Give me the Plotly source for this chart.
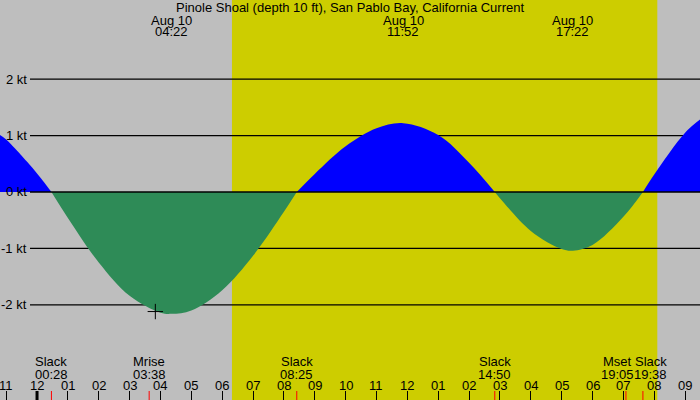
import plotly.graph_objects as go

# current prediction, Pinole Shoal, Aug 10 (knots, + = flood, - = ebb)
times = [
    "2023-08-09 22:48", "2023-08-09 23:00", "2023-08-10 00:00", "2023-08-10 00:28",
    "2023-08-10 01:00", "2023-08-10 02:00", "2023-08-10 03:00", "2023-08-10 04:00",
    "2023-08-10 04:22", "2023-08-10 05:00", "2023-08-10 06:00", "2023-08-10 07:00",
    "2023-08-10 08:00", "2023-08-10 08:25", "2023-08-10 09:00", "2023-08-10 10:00",
    "2023-08-10 11:00", "2023-08-10 11:52", "2023-08-10 13:00", "2023-08-10 14:00",
    "2023-08-10 14:50", "2023-08-10 15:00", "2023-08-10 16:00", "2023-08-10 17:00",
    "2023-08-10 17:22", "2023-08-10 18:00", "2023-08-10 19:00", "2023-08-10 19:38",
    "2023-08-10 20:00", "2023-08-10 21:00", "2023-08-10 21:30",
]
knots = [
    1.01, 0.93, 0.33, 0.0,
    -0.46, -1.25, -1.84, -2.14,
    -2.16, -2.10, -1.74, -1.13,
    -0.35, 0.0, 0.32, 0.81,
    1.13, 1.22, 1.01, 0.52,
    0.0, -0.11, -0.69, -1.01,
    -1.04, -0.94, -0.44, 0.0,
    0.31, 1.05, 1.29,
]

# hour ticks along the bottom
tick_times = ["2023-08-09 23:00"] + [f"2023-08-10 {h:02d}:00" for h in range(22)]
tick_labels = ["11", "12", "01", "02", "03", "04", "05", "06", "07", "08", "09", "10",
               "11", "12", "01", "02", "03", "04", "05", "06", "07", "08", "09"]

# max/min current labels at the top
peak_times = ["2023-08-10 04:22", "2023-08-10 11:52", "2023-08-10 17:22"]
peak_labels = ["04:22", "11:52", "17:22"]
peak_dates = ["Aug 10", "Aug 10", "Aug 10"]

# events along the bottom
event_times = ["2023-08-10 00:28", "2023-08-10 03:38", "2023-08-10 08:25",
               "2023-08-10 14:50", "2023-08-10 19:05", "2023-08-10 19:38"]
event_names = ["Slack", "Mrise", "Slack", "Slack", "Mset", "Slack"]
event_labels = ["00:28", "03:38", "08:25", "14:50", "19:05", "19:38"]
event_shift = [0, 0, 0, 0, -8, 8]

sunrise = "2023-08-10 06:19"
sunset = "2023-08-10 20:06"
mark_time = "2023-08-10 03:50"
mark_knots = -2.12

kt_levels = [2, 1, 0, -1, -2]

FONT = "Liberation Sans"
FS = 13
GREY = "#bebebe"
DAY = "#cdcd00"
FLOOD = "#0000ff"
EBB = "#2e8b57"

fig = go.Figure()

# split curve at slack (zero) points so each lobe gets its own colour
seg_t, seg_v = [times[0]], [knots[0]]
for t, v in zip(times[1:], knots[1:]):
    seg_t.append(t)
    seg_v.append(v)
    if v == 0 or t == times[-1]:
        col = FLOOD if sum(seg_v) > 0 else EBB
        fig.add_trace(go.Scatter(
            x=seg_t, y=seg_v, mode="lines", line=dict(color=col, width=0, shape="spline"),
            fill="tozeroy", fillcolor=col, hoverinfo="skip", showlegend=False,
        ))
        seg_t, seg_v = [t], [v]

fig.add_trace(go.Scatter(
    x=[mark_time], y=[mark_knots], mode="markers",
    marker=dict(symbol="cross-thin", size=11, line=dict(color="black", width=1)),
    showlegend=False, hoverinfo="skip",
))

shapes = [dict(type="rect", xref="x", yref="paper", x0=sunrise, x1=sunset, y0=0, y1=1,
               fillcolor=DAY, line=dict(width=0), layer="below")]
for k in kt_levels:
    shapes.append(dict(type="line", xref="paper", yref="y", x0=30 / 700, x1=1, y0=k, y1=k,
                       line=dict(color="black", width=1.3),
                       layer="above" if k == 0 else "below"))
# date boundary tick
shapes.append(dict(type="line", xref="x", yref="paper", x0="2023-08-10 00:00", x1="2023-08-10 00:00",
                   y0=0, y1=9 / 400, line=dict(color="black", width=3)))
for t in event_times:
    shapes.append(dict(type="line", xref="x", yref="paper", x0=t, x1=t, y0=0, y1=9 / 400,
                       line=dict(color="red", width=1)))

annotations = [dict(text="Pinole Shoal (depth 10 ft), San Pablo Bay, California Current",
                    xref="paper", yref="paper", x=0.5, y=1 - 7.5 / 400, showarrow=False,
                    yanchor="middle")]
for t, d, l in zip(peak_times, peak_dates, peak_labels):
    annotations.append(dict(text=d, x=t, xref="x", yref="paper", y=1 - 20 / 400,
                            showarrow=False, yanchor="middle"))
    annotations.append(dict(text=l, x=t, xref="x", yref="paper", y=1 - 31.5 / 400,
                            showarrow=False, yanchor="middle"))
for t, n, l, s in zip(event_times, event_names, event_labels, event_shift):
    annotations.append(dict(text=n, x=t, xref="x", yref="paper", y=1 - 361.5 / 400, xshift=s,
                            showarrow=False, yanchor="middle"))
    annotations.append(dict(text=l, x=t, xref="x", yref="paper", y=1 - 374 / 400, xshift=s,
                            showarrow=False, yanchor="middle"))
for t, l in zip(tick_times, tick_labels):
    annotations.append(dict(text=l, x=t, xref="x", yref="paper", y=1 - 385.5 / 400,
                            showarrow=False, yanchor="middle"))
for k in kt_levels:
    annotations.append(dict(text=f"{k} kt", x=29 / 700, xref="paper", y=k, yref="y",
                            xanchor="right", yanchor="middle", showarrow=False))

fig.update_layout(
    width=700, height=400,
    margin=dict(l=0, r=0, t=0, b=0, autoexpand=False),
    paper_bgcolor=GREY, plot_bgcolor=GREY,
    font=dict(family=FONT, size=FS, color="black"),
    shapes=shapes, annotations=annotations,
    xaxis=dict(
        type="date", range=["2023-08-09 22:48", "2023-08-10 21:29"],
        tickvals=tick_times, showticklabels=False,
        ticks="inside", ticklen=9, tickcolor="black", tickwidth=1,
        showgrid=False, zeroline=False, showline=False,
    ),
    yaxis=dict(range=[-3.688, 3.404], showgrid=False, zeroline=False, showticklabels=False,
               ticks=""),
)

fig.write_html("out.html", config={"displayModeBar": False},
               post_script="document.body.style.margin='0';")
